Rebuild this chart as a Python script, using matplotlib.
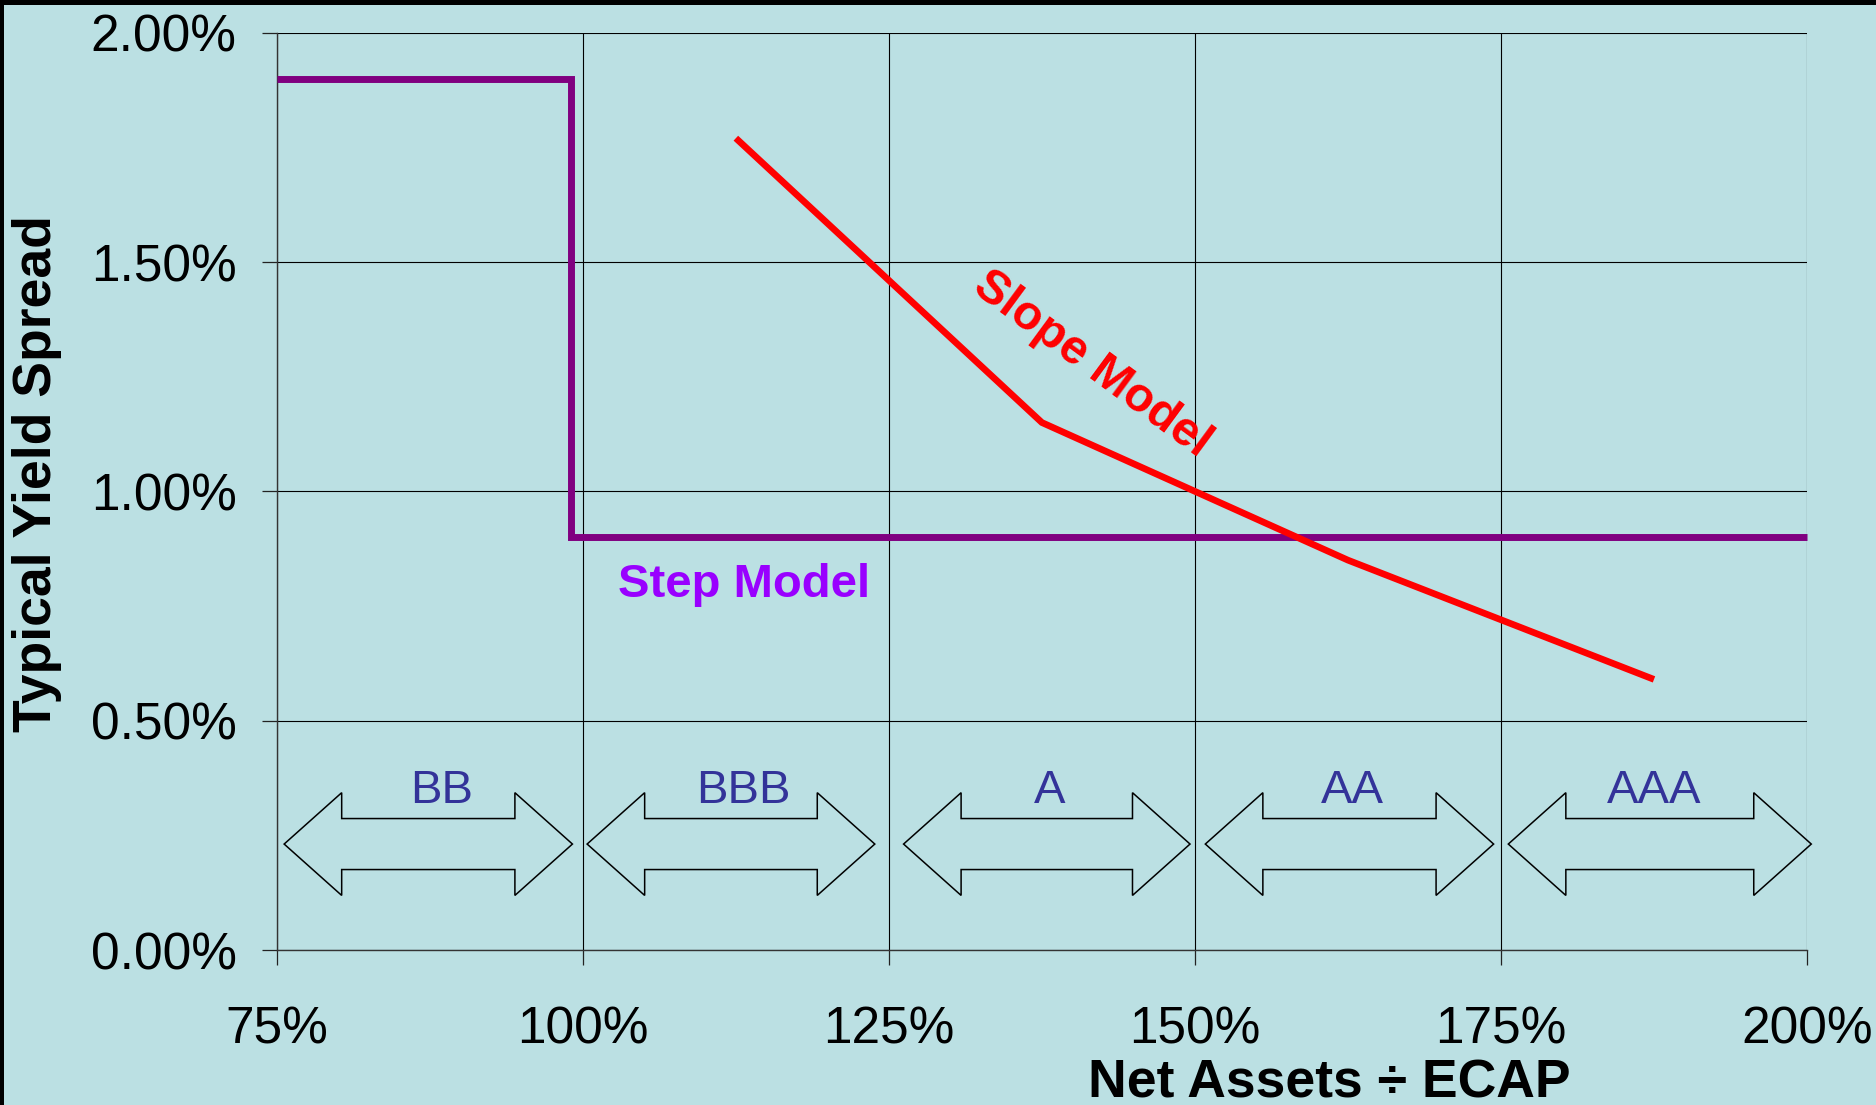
import matplotlib
matplotlib.use("Agg")
import matplotlib.pyplot as plt
from matplotlib.patches import Polygon, Rectangle
from matplotlib.ticker import FuncFormatter

# ---- data -------------------------------------------------------------
# Step model: spread jumps down once net assets cover ~99% of ECAP
step_x = [75, 99, 99, 200]
step_y = [1.90, 1.90, 0.90, 0.90]

# Slope model: spread declines continuously with capital coverage
slope_x = [112.5, 125, 137.5, 150, 162.5, 175, 187.5]
slope_y = [1.77, 1.46, 1.15, 1.00, 0.85, 0.72, 0.59]

# Rating bands along the capital-coverage axis
band_edges = [75, 100, 125, 150, 175, 200]
ratings = ["BB", "BBB", "A", "AA", "AAA"]

x_ticks = [75, 100, 125, 150, 175, 200]
y_ticks = [0.0, 0.5, 1.0, 1.5, 2.0]

# ---- style ------------------------------------------------------------
BG = "#BBE0E3"
STEP_COLOR = "#800080"
STEP_TEXT = "#9900FF"
SLOPE_COLOR = "#FF0000"
RATING_COLOR = "#333399"
FONT = ["Liberation Sans", "DejaVu Sans"]

# how far each band arrow's tips sit inside the band edges (x units)
arrow_inset_left = [0.6, 0.35, 1.2, 0.85, 0.6]
arrow_inset_right = [0.85, 1.15, 0.4, 0.6, -0.35]
# horizontal nudge of each rating label from its band centre (x units)
label_shift = [1.0, 0.6, 0.6, 0.4, 0.0]

plt.rcParams["font.family"] = FONT

W, H = 1876, 1105
fig = plt.figure(figsize=(W / 100, H / 100), dpi=100, facecolor=BG)

# dark frame strips along the top and left edges
fig.patches.append(Rectangle((0, 1 - 5 / H), 1, 5 / H, transform=fig.transFigure,
                             facecolor="black", edgecolor="none", zorder=0))
fig.patches.append(Rectangle((0, 0), 3.5 / W, 1, transform=fig.transFigure,
                             facecolor="black", edgecolor="none", zorder=0))

ax_left, ax_right = 276.8 / W, 1807 / W
ax_top, ax_bottom = 1 - 32.7 / H, 1 - 950 / H
ax = fig.add_axes([ax_left, ax_bottom, ax_right - ax_left, ax_top - ax_bottom])
ax.set_facecolor(BG)

ax.set_xlim(75, 200)
ax.set_ylim(0, 2.0)
ax.set_xticks(x_ticks)
ax.set_yticks(y_ticks)
ax.xaxis.set_major_formatter(FuncFormatter(lambda v, p: f"{v:.0f}%"))
ax.yaxis.set_major_formatter(FuncFormatter(lambda v, p: f"{v:.2f}%"))
ax.tick_params(axis="both", direction="out", length=11, width=0.9, color="#222222",
               labelsize=37, labelcolor="black")
ax.tick_params(axis="x", pad=29)
ax.tick_params(axis="y", pad=18)

ax.grid(True, color="black", linewidth=0.8, zorder=1)
ax.set_axisbelow(True)
for side in ["left", "bottom"]:
    ax.spines[side].set_color("#333333")
    ax.spines[side].set_linewidth(1.0)
for side in ["top", "right"]:
    ax.spines[side].set_visible(False)

# ---- model lines -------------------------------------------------------
ax.plot(step_x, step_y, color=STEP_COLOR, linewidth=5, solid_joinstyle="miter",
        solid_capstyle="butt", zorder=3, clip_on=False)
ax.plot(slope_x, slope_y, color=SLOPE_COLOR, linewidth=4.8, solid_joinstyle="miter",
        solid_capstyle="butt", zorder=4)

ax.text(113.2, 0.770, "Step Model", color=STEP_TEXT, fontsize=34,
        fontweight="bold", ha="center", va="baseline", zorder=5)
ax.text(141.0, 1.254, "Slope Model", color=SLOPE_COLOR, fontsize=34.5,
        fontweight="bold", ha="center", va="baseline", rotation=-36.3,
        rotation_mode="anchor", zorder=5)

# ---- rating bands: double-headed block arrows -------------------------
yc, head_h, shaft_h, head_len = 0.231, 0.112, 0.0556, 4.7
for lo, hi, name, il, ir, dx in zip(band_edges[:-1], band_edges[1:], ratings,
                                    arrow_inset_left, arrow_inset_right, label_shift):
    x0, x1 = lo + il, hi - ir
    pts = [
        (x0, yc),
        (x0 + head_len, yc + head_h),
        (x0 + head_len, yc + shaft_h),
        (x1 - head_len, yc + shaft_h),
        (x1 - head_len, yc + head_h),
        (x1, yc),
        (x1 - head_len, yc - head_h),
        (x1 - head_len, yc - shaft_h),
        (x0 + head_len, yc - shaft_h),
        (x0 + head_len, yc - head_h),
    ]
    ax.add_patch(Polygon(pts, closed=True, facecolor="none", edgecolor="black",
                         linewidth=1.1, joinstyle="miter", zorder=2, clip_on=False))
    ax.text((lo + hi) / 2 + dx, 0.321, name, color=RATING_COLOR, fontsize=34,
            ha="center", va="baseline", zorder=5)

# ---- axis titles ------------------------------------------------------
fig.text(37 / W, 1 - 474 / H, "Typical Yield Spread", rotation=90, fontsize=38.5,
         fontweight="bold", ha="center", va="center")
fig.text(1329 / W, 8 / H, "Net Assets \u00f7 ECAP", fontsize=38.5,
         fontweight="bold", ha="center", va="baseline")

fig.savefig("out.png", dpi=100, facecolor=BG)
